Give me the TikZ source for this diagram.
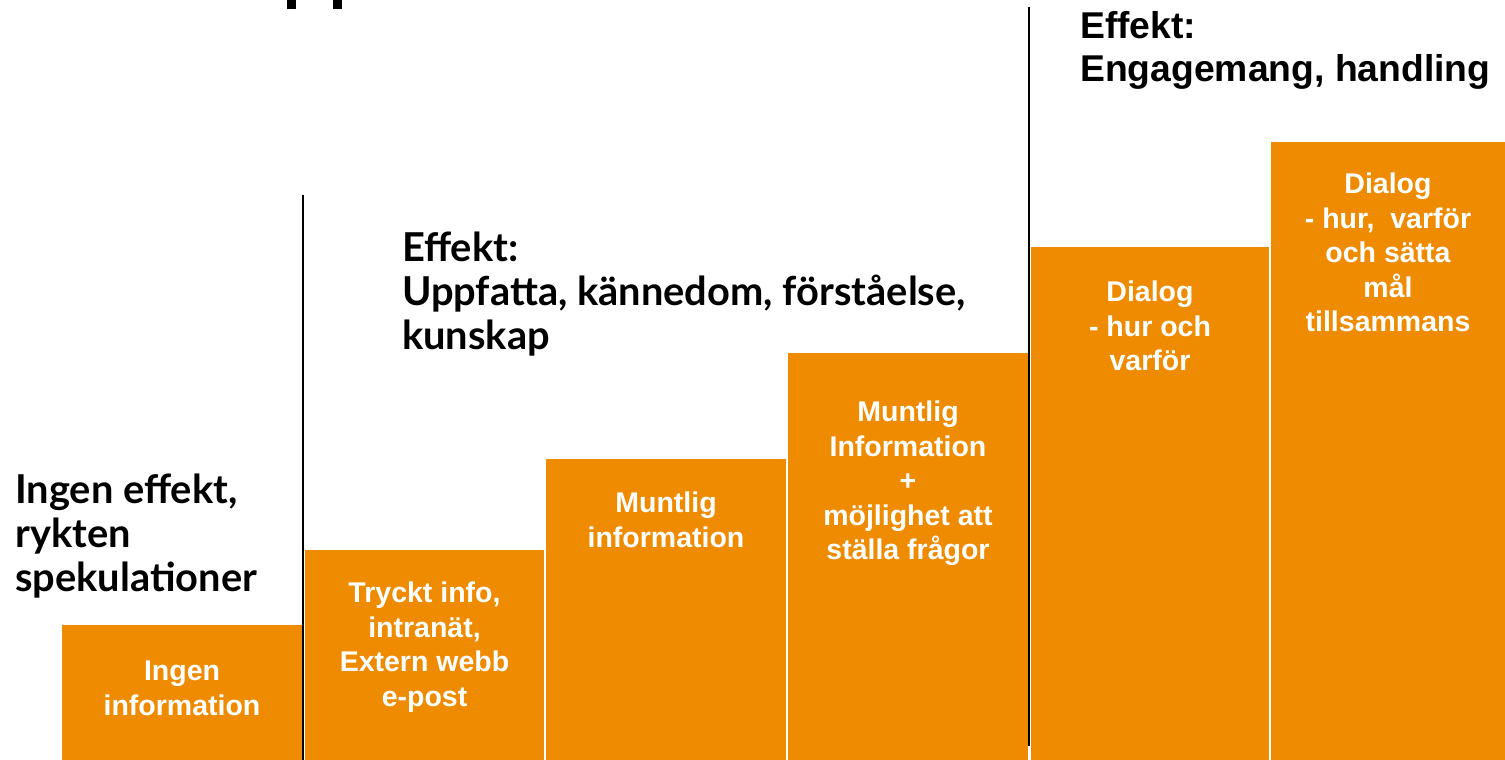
\documentclass[tikz,border=0pt]{standalone}
\usepackage{fontspec}
\setmainfont{Liberation Sans}
\newfontfamily\headfont{Lato}
\definecolor{stepor}{RGB}{238,139,0}
\begin{document}
\begin{tikzpicture}[x=1pt,y=-1pt,
  stepbox/.style={fill=stepor,draw=none},
  boxtext/.style={anchor=north,inner sep=0pt,align=center,text=white,
    font=\fontsize{28.5}{34.5}\selectfont\bfseries},
  headtext/.style={anchor=north west,inner sep=0pt,align=left,
    font=\fontsize{39.8}{44}\selectfont\headfont\bfseries},
  arialhead/.style={anchor=north west,inner sep=0pt,align=left,
    font=\fontsize{37.3}{43}\selectfont\bfseries},
  divider/.style={line width=2pt,black}]
\useasboundingbox (0,0) rectangle (1505,760);
% title fragments
\fill[black] (287,0) rectangle (296,9);
\fill[black] (333,0) rectangle (342,9);
% steps
\path[stepbox] (62,625) rectangle (302,760);
\path[stepbox] (305,550) rectangle (544,760);
\path[stepbox] (546,459) rectangle (786,760);
\path[stepbox] (788,353) rectangle (1028,760);
\path[stepbox] (1031,247) rectangle (1269,760);
\path[stepbox] (1271,142) rectangle (1505,760);
% box texts
\node[boxtext] (t1) at (182,661) {Ingen\\information};
\node[boxtext] (t2) at (424.5,582) {Tryckt info,\\intranät,\\Extern webb\\e-post};
\node[boxtext] (t3) at (666,492) {Muntlig\\information};
\node[boxtext] (t4) at (908,401) {Muntlig\\Information\\+\\möjlighet att\\ställa frågor};
\node[boxtext] (t5) at (1150,281) {Dialog\\- hur och\\varför};
\node[boxtext] (t6) at (1388,173) {Dialog\\- hur,\ \ varför\\och sätta\\mål\\tillsammans};
% headings
\node[headtext] (h1) at (15,474) {Ingen effekt,\\rykten\\spekulationer};
\node[headtext] (h2) at (402,232) {Effekt:\\Uppfatta, kännedom, förståelse,\\kunskap};
\node[arialhead] (h3) at (1080,11) {Effekt:\\Engagemang, handling};
% dividers
\coordinate (d1a) at (303,195);
\coordinate (d1b) at (303,760);
\coordinate (d2a) at (1029,7);
\coordinate (d2b) at (1029,746);
\draw[divider] (d1a) -- (d1b);
\draw[divider] (d2a) -- (d2b);
\end{tikzpicture}
\end{document}
